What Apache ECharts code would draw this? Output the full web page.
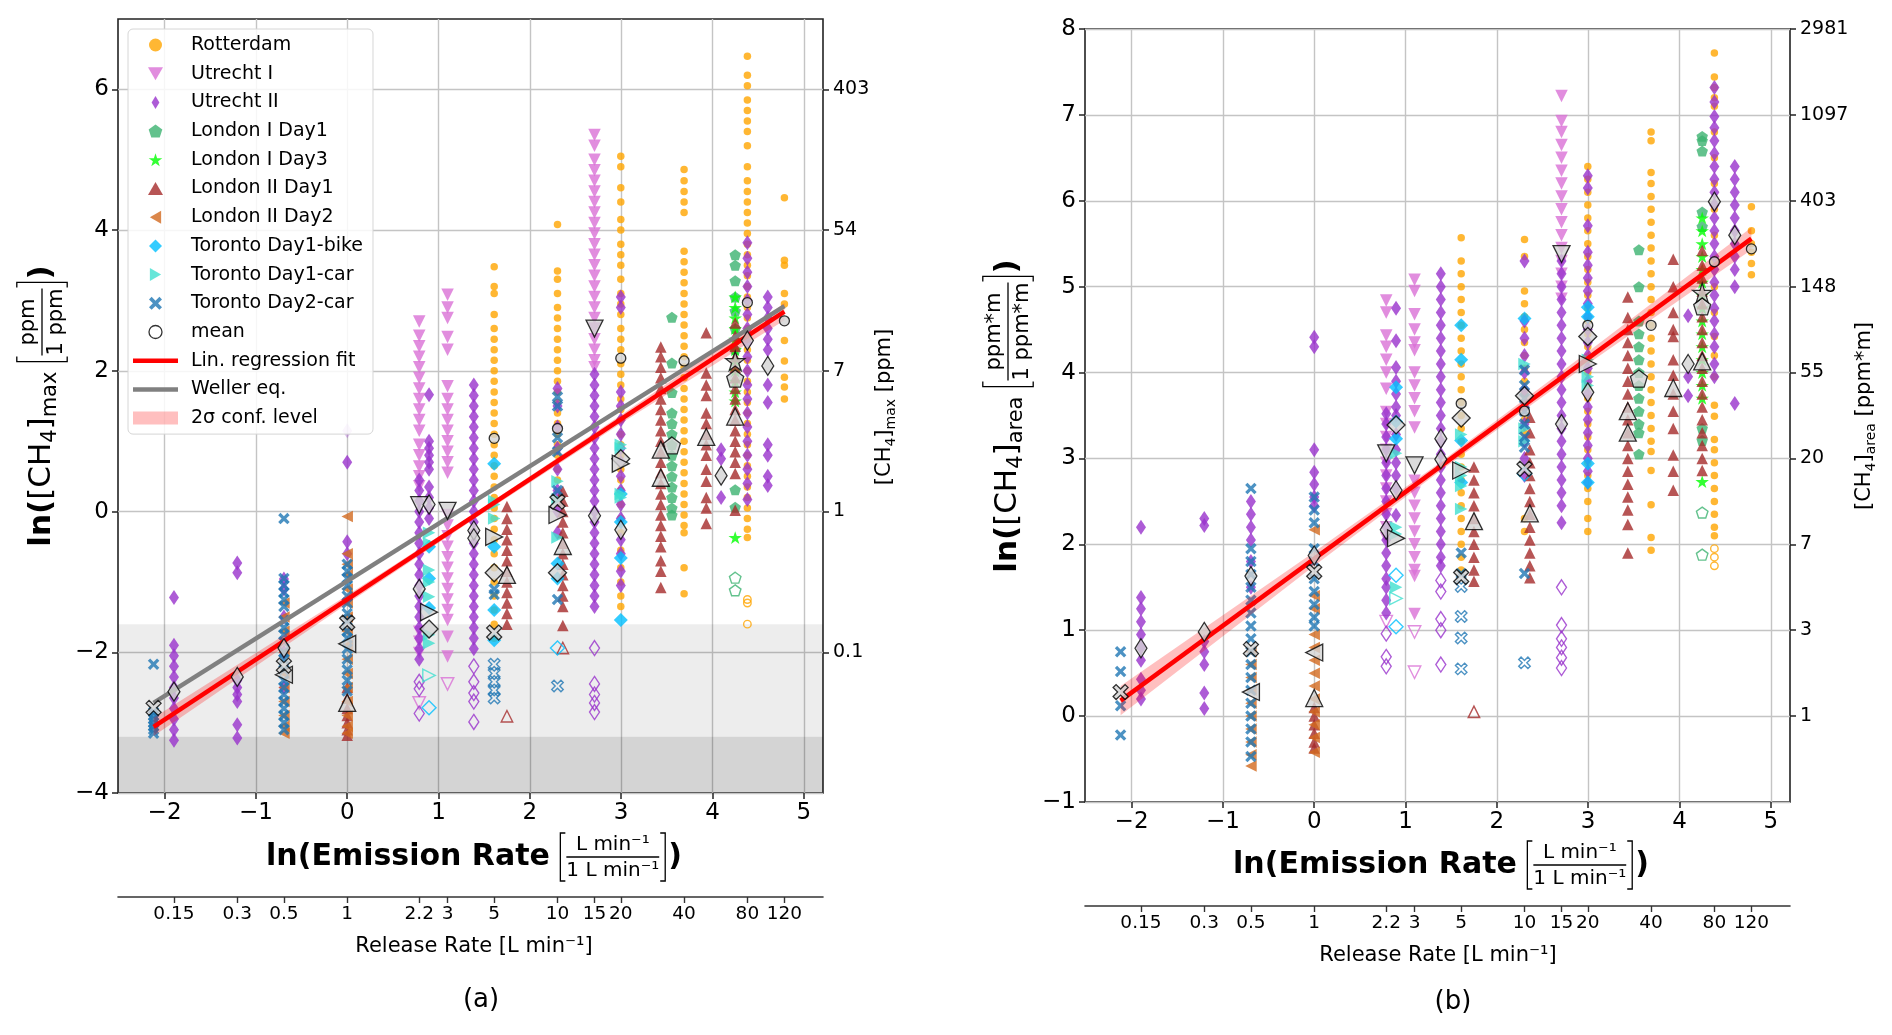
<!DOCTYPE html>
<html>
<head>
<meta charset="utf-8">
<title>CH4 enhancement vs emission rate</title>
<script src="https://cdn.jsdelivr.net/npm/echarts@6.0.0/dist/echarts.min.js"></script>
<style>
    html, body { margin: 0; padding: 0; background: #fff; }
    #chart { width: 1892px; height: 1035px; }
</style>
</head>
<body>
<div id="chart"></div>
<script>
// ticks
const lnTicks = [-2, -1, 0, 1, 2, 3, 4, 5]
const releaseTicks = [0.15, 0.3, 0.5, 1, 2.2, 3, 5, 10, 15, 20, 40, 80, 120]
const releaseTickLabels = ['0.15', '0.3', '0.5', '1', '2.2', '3', '5', '10', '15', '20', '40', '80', '120']
const maxTicks = [-4, -2, 0, 2, 4, 6]
const maxRightTicks = [-2, 0, 2, 4, 6]
const maxRightLabels = ['0.1', '1', '7', '54', '403']
const areaTicks = [-1, 0, 1, 2, 3, 4, 5, 6, 7, 8]
const areaRightTicks = [0, 1, 2, 3, 4, 5, 6, 7, 8]
const areaRightLabels = ['1', '3', '7', '20', '55', '148', '403', '1097', '2981']
const detectionBands = [[-1.6, -3.2], [-3.2, -4]]

// (a) ln([CH4]max): [release rate L/min, [ln values]]
const rotMax = [
    [5, [3.48, 3.2, 3.1, 2.8, 2.6, 2.45, 2.3, 2.15, 2.0, 1.85, 1.7, 1.55, 1.4, 1.25, 1.1, 0.95, 0.8, 0.65, 0.5, 0.35, 0.2, 0.05, -0.1, -0.25, -0.4, -0.6, -0.8, -1.0, -1.2, -1.4, -1.6, -1.8]],
    [10, [4.08, 3.42, 3.3, 3.1, 2.9, 2.75, 2.6, 2.45, 2.3, 2.15, 2.0, 1.85, 1.7, 1.55, 1.4, 1.25, 1.1, 0.95, 0.8, 0.6, 0.45]],
    [20, [5.05, 4.9, 4.6, 4.4, 4.15, 4.0, 3.8, 3.65, 3.5, 3.3, 3.1, 2.95, 2.8, 2.6, 2.45, 2.3, 2.1, 1.95, 1.8, 1.6, 1.45, 1.3, 1.1, 0.95, 0.8, 0.6, 0.45, 0.3, 0.1, -0.1, -0.3, -0.55, -0.8, -1.0, -1.2, -1.35]],
    [40, [4.86, 4.7, 4.55, 4.4, 4.25, 3.7, 3.55, 3.4, 3.25, 3.1, 2.95, 2.8, 2.65, 2.5, 2.35, 2.2, 2.05, 1.9, 1.75, 1.6, 1.45, 1.3, 1.15, 1.0, 0.85, 0.7, 0.55, 0.4, 0.25, 0.1, -0.05, -0.2, -0.3, -0.8, -1.17]],
    [80, [6.47, 6.2, 6.05, 5.85, 5.7, 5.55, 5.4, 5.2, 4.9, 4.7, 4.55, 4.4, 4.25, 4.1, 3.95, 3.8, 3.65, 3.5, 3.35, 3.2, 3.05, 2.9, 2.75, 2.6, 2.45, 2.3, 2.15, 2.0, 1.85, 1.7, 1.55, 1.4, 1.25, 1.1, 0.95, 0.8, 0.65, 0.5, 0.35, 0.2, 0.05, -0.1, -0.25, -0.37]],
    [120, [4.46, 3.57, 3.5, 3.1, 2.95, 2.43, 2.14, 1.91, 1.77, 1.6]],
]
const rotMaxOpen = [[80, [-1.25, -1.3, -1.6]]]
const rotMaxMean = [[5, 1.04], [10, 1.18], [20, 2.18], [40, 2.14], [80, 2.97], [120, 2.71]]

const utr1Max = [
    [2.2, [2.7, 2.5, 2.35, 2.2, 2.05, 1.9, 1.75, 1.6, 1.45, 1.3, 1.15, 0.95, 0.8, 0.64, 0.5, 0.36, -1.71, -1.85, -2.01]],
    [3, [3.08, 2.9, 2.75, 2.48, 2.3, 1.78, 1.6, 1.45, 1.3, 1.15, 1.0, 0.85, 0.7, 0.55, -0.05, -0.2, -0.35, -0.5, -0.65, -0.8, -0.95, -1.1, -1.25, -1.4, -1.54, -1.78, -2.06]],
    [15, [5.35, 5.2, 5.0, 4.85, 4.7, 4.55, 4.4, 4.25, 4.1, 3.95, 3.8, 3.65, 3.5, 3.35, 3.2, 3.05, 2.9, 2.75, 2.6, 2.45, 2.3, 2.15, 2.05]],
]
const utr1MaxOpen = [[2.2, [-2.72]], [3, [-2.45]]]
const utr1MaxMean = [[2.2, 0.09], [3, 0.01], [15, 2.6]]

const utr2Max = [
    [0.15, [-1.22, -1.9, -2.05, -2.2, -2.35, -2.5, -2.65, -2.8, -2.95, -3.1, -3.25]],
    [0.3, [-0.73, -0.87, -2.4, -2.5, -2.6, -2.7, -3.03, -3.22]],
    [0.5, [-0.96, -1.1, -1.5, -2.0, -2.5]],
    [1, [0.7, -0.43, -0.6]],
    [2.2, [0.45, 0.3, 0.15, 0.0, -0.15, -0.3, -0.45, -0.6, -0.75, -0.9, -1.05, -1.2, -1.35, -1.5, -1.65, -1.8, -1.95, -2.1]],
    [2.45, [1.66, 1.0, 0.9, 0.8, 0.7, 0.6, 0.35, 0.2, 0.05, -0.1]],
    [4, [1.8, 1.65, 1.5, 1.35, 1.2, 1.05, 0.9, 0.75, 0.6, 0.45, 0.3, 0.15, 0.0, -0.15, -0.3, -0.45, -0.6, -0.75, -0.9, -1.05, -1.2, -1.35, -1.5, -1.65, -1.8, -1.95]],
    [10, [1.75, 1.5, 1.2, 0.9, 0.6, 0.3, 0.0, -0.3]],
    [15, [1.95, 1.8, 1.65, 1.5, 1.35, 1.2, 1.05, 0.9, 0.75, 0.6, 0.45, 0.3, 0.15, 0.0, -0.15, -0.3, -0.45, -0.6, -0.75, -0.9, -1.05, -1.2, -1.35]],
    [20, [3.05, 2.9, 1.7, 1.5, 1.3, 1.1, 0.9, 0.7, 0.5, 0.3, 0.1, -0.1, -0.4, -0.6, -0.85, -1.05]],
    [60, [0.88, 0.75, 0.2]],
    [80, [3.82, 3.6, 3.4, 3.2, 3.0, 2.8, 2.6, 2.4, 2.2, 2.0, 1.8, 1.6, 1.4, 1.2, 1.0, 0.8, 0.6, 0.4, 0.17]],
    [100, [3.05, 2.9, 2.75, 2.6, 2.45, 2.3, 1.8, 1.55, 0.95, 0.8, 0.5, 0.37]],
]
const utr2MaxOpen = [[2.2, [-2.42, -2.52, -2.87]], [4, [-2.2, -2.42, -2.58, -2.7, -2.99]], [15, [-1.94, -2.45, -2.6, -2.72, -2.85]]]
const utr2MaxFaint = [[1, [1.15]]]
const utr2MaxMean = [[0.15, -2.56], [0.3, -2.35], [0.5, -1.94], [2.2, -1.1], [2.45, 0.1], [4, -0.27], [4, -0.38], [15, -0.06], [20, -0.26], [60, 0.51], [80, 2.43], [100, 2.07]]

const lon1d1Max = [
    [35, [2.76, 2.11, 1.69, 1.4, 1.25, 1.1, 0.95, 0.8, 0.65, 0.5, 0.35, 0.2, 0.05, -0.05]],
    [70, [3.65, 3.5, 3.28, 3.05, 2.85, 2.6, 2.3, 0.31, 0.06]],
]
const lon1d1MaxOpen = [[70, [-0.94, -1.12]]]
const lon1d1MaxMean = [[35, 0.94], [70, 1.89]]

const lon1d3Max = [[70, [3.05, 2.9, 2.75, 2.6, 2.45, 2.3, 2.15, 2.0, 1.85, 1.7, 1.57, -0.37]]]
const lon1d3MaxMean = [[70, 2.14]]

const lon2d1Max = [
    [1, [-2.5, -2.65, -2.8, -2.9, -3.0, -3.1, -3.18]],
    [5.75, [0.07, -0.1, -0.25, -0.4, -0.55, -0.7, -0.85, -1.0, -1.15, -1.3, -1.45, -1.6]],
    [10.6, [0.29, 0.15, 0.0, -0.15, -0.3, -0.45, -0.6, -0.75, -0.9, -1.05, -1.2, -1.35, -1.62]],
    [31, [2.34, 2.2, 2.05, 1.9, 1.75, 1.6, 1.45, 1.3, 1.15, 1.0, 0.85, 0.7, 0.55, 0.4, 0.25, 0.1, -0.05, -0.2, -0.35, -0.5, -0.7, -0.85, -1.08]],
    [51, [2.54, 1.97, 1.8, 1.65, 1.4, 1.25, 1.1, 0.95, 0.8, 0.6, 0.43, 0.2, 0.05, -0.17]],
    [70, [2.68, 2.5, 2.35, 2.2, 2.05, 1.9, 1.75, 1.6, 1.45, 1.3, 1.15, 1.0, 0.85, 0.7, 0.54, 0.02]],
]
const lon2d1MaxOpen = [[5.75, [-2.91]], [10.6, [-1.94]]]
const lon2d1MaxMean = [[1, -2.72], [5.75, -0.9], [10.6, -0.49], [31, 0.88], [31, 0.48], [51, 1.06], [70, 1.35]]

const lon2d2Max = [
    [0.5, [-1.3, -1.5, -1.7, -2.0, -2.3, -2.5, -2.7, -2.9, -3.05, -3.15]],
    [1, [-0.07, -0.6, -0.75, -0.9, -1.1, -1.3, -1.5, -1.7, -1.9, -2.1, -2.3, -2.5, -2.7, -2.9, -3.05, -3.15]],
]
const lon2d2MaxMean = [[0.5, -2.32], [1, -1.88]]

const bikeMax = [[2.45, [-0.5, -0.95, -1.37]], [5, [0.68, -0.5, -1.4, -1.83]], [10, [-0.74, -0.95]], [20, [0.25, -0.15, -0.66, -1.54]]]
const bikeMaxOpen = [[2.45, [-2.79]], [10, [-1.94]]]
const bikeMaxMean = [[2.45, -1.67], [5, -0.87], [10, -0.87], [20, 0.75]]

const carMax = [[2.45, [-0.3, -0.45, -0.83, -1.0, -1.21, -1.75, -1.87]], [5, [0.15, 0.1, -0.1]], [10, [0.43, 0.17, -0.37]], [20, [0.95, 0.9, 0.25, 0.2]]]
const carMaxOpen = [[2.45, [-2.33]]]
const carMaxMean = [[2.45, -1.43], [5, -0.36], [10, -0.05], [20, 0.68]]

const car2Max = [
    [0.12, [-2.17, -2.85, -2.9, -2.95, -3.0, -3.05, -3.1, -3.15]],
    [0.5, [-0.1, -0.95, -1.05, -1.15, -1.25, -1.35, -1.55, -1.65, -1.75, -1.85, -2.0, -2.1, -2.25, -2.4, -2.5, -2.6, -2.7, -2.8, -2.9, -3.0, -3.1]],
    [1, [-0.75, -0.85, -0.95, -1.05, -1.2, -1.3, -1.45, -1.55, -1.7, -1.8, -1.95, -2.1, -2.25, -2.4, -2.55]],
    [5, [-1.1, -1.18]],
    [10, [1.63, 1.5, 1.05, 0.85, 0.3, -1.25]],
]
const car2MaxOpen = [[5, [-2.17, -2.3, -2.42, -2.54, -2.65]], [10, [-2.48]]]
const car2MaxMean = [[0.12, -2.79], [0.5, -2.19], [1, -1.58], [5, -1.72], [10, 0.14]]

// (b) ln([CH4]area)
const rotArea = [
    [5, [5.57, 5.3, 5.15, 5.0, 4.85, 4.7, 4.55, 4.4, 4.25, 4.1, 3.95, 3.8, 3.65, 3.5, 3.35, 3.2, 3.05, 2.9, 2.75, 2.6, 2.45, 2.3, 2.15, 2.0, 1.85, 1.7]],
    [10, [5.55, 5.35, 4.95, 4.8, 4.65, 4.5, 4.35, 4.2, 4.05, 3.9, 3.75, 3.6, 3.45, 3.3, 2.3, 2.15]],
    [20, [6.4, 6.25, 6.1, 5.95, 5.8, 5.65, 5.5, 5.35, 5.2, 5.05, 4.9, 4.75, 4.6, 4.45, 4.3, 4.15, 4.0, 3.85, 3.7, 3.55, 3.4, 3.25, 3.1, 2.95, 2.8, 2.65, 2.5, 2.3, 2.15]],
    [40, [6.8, 6.7, 6.33, 6.2, 6.05, 5.9, 5.75, 5.6, 5.45, 5.3, 5.15, 5.0, 4.85, 4.7, 4.55, 4.4, 4.25, 4.1, 3.95, 3.8, 3.65, 3.5, 3.35, 3.2, 3.08, 2.86, 2.46, 2.08, 1.93]],
    [80, [7.72, 7.44, 7.32, 7.2, 7.1, 6.8, 6.5, 6.2, 5.9, 5.6, 5.3, 5.0, 4.7, 4.42, 4.2, 3.95, 3.62, 3.49, 3.22, 3.1, 2.95, 2.8, 2.65, 2.5, 2.35, 2.2, 2.1]],
    [120, [5.93, 5.65, 5.5, 5.4, 5.27, 5.14]],
]
const rotAreaOpen = [[80, [1.95, 1.85, 1.75]]]
const rotAreaMean = [[5, 3.64], [10, 3.55], [20, 4.55], [40, 4.55], [80, 5.29], [120, 5.44]]

const utr1Area = [
    [2.2, [4.84, 4.7, 4.43, 4.3, 4.15, 4.0, 3.81, 3.54, 3.4, 3.25, 3.1, 2.95, 2.8, 2.65, 2.5, 2.35, 2.2, 2.07]],
    [3, [5.08, 4.95, 4.68, 4.5, 4.35, 4.26, 4.0, 3.85, 3.7, 3.55, 3.36, 2.74, 2.6, 2.45, 2.3, 2.15, 2.0, 1.85, 1.7, 1.63, 1.19]],
    [15, [7.22, 6.93, 6.8, 6.65, 6.5, 6.35, 6.2, 6.05, 5.9, 5.75, 5.6, 5.45, 5.3, 5.15, 5.0, 4.86]],
]
const utr1AreaOpen = [[2.2, [1.1]], [3, [0.98, 0.51]]]
const utr1AreaMean = [[2.2, 3.06], [3, 2.92], [15, 5.38]]

const utr2Area = [
    [0.15, [2.2, 1.38, 1.25, 1.1, 0.95, 0.8, 0.65, 0.43, 0.3, 0.2]],
    [0.3, [2.3, 2.22, 0.87, 0.75, 0.6, 0.27, 0.09]],
    [0.5, [2.5, 2.35, 2.2, 2.05, 1.8, 1.5]],
    [1, [4.41, 4.3, 3.1, 2.84, 2.7, 2.55, 2.45]],
    [2.2, [3.52, 3.4, 3.25, 3.1, 2.95, 2.8, 2.65, 2.5, 2.35, 2.2, 2.05, 1.9, 1.75, 1.6, 1.5, 1.35, 1.2]],
    [2.45, [4.75, 4.37, 4.06, 3.9, 3.75, 3.6, 3.5, 3.28, 3.1, 2.95, 2.8, 2.65, 2.34]],
    [4, [5.15, 5.0, 4.85, 4.7, 4.55, 4.4, 4.25, 4.1, 3.95, 3.8, 3.65, 3.5, 3.35, 3.2, 3.05, 2.9, 2.75, 2.6, 2.45, 2.3, 2.15, 2.0, 1.85, 1.75]],
    [10, [5.3, 4.6, 4.4, 4.2, 4.0, 3.8, 3.6, 3.4, 3.2, 3.0, 2.8]],
    [15, [5.3, 5.15, 5.0, 4.85, 4.7, 4.55, 4.4, 4.25, 4.1, 3.95, 3.8, 3.65, 3.5, 3.35, 3.2, 3.05, 2.9, 2.75, 2.6, 2.45, 2.25]],
    [20, [6.29, 6.15, 5.71, 5.4, 5.25, 5.1, 4.95, 4.8, 4.65, 4.5, 4.35, 4.2, 4.05, 3.9, 3.75, 3.6, 3.45, 3.3, 3.15, 3.0, 2.85, 2.72]],
    [60, [4.66, 3.95, 3.73]],
    [80, [7.32, 7.15, 6.98, 6.85, 6.7, 6.55, 6.4, 6.25, 6.1, 5.95, 5.8, 5.65, 5.5, 5.35, 5.2, 5.05, 4.9, 4.75, 4.6, 4.45, 4.3, 4.1, 3.95]],
    [100, [6.4, 6.25, 6.1, 5.95, 5.8, 5.65, 5.5, 5.35, 5.2, 5.0, 3.64]],
]
const utr2AreaOpen = [[2.2, [0.96, 0.69, 0.58]], [4, [1.58, 1.45, 1.13, 1.0, 0.6]], [15, [1.5, 1.06, 0.9, 0.8, 0.68, 0.56]]]
const utr2AreaMean = [[0.15, 0.79], [0.3, 0.98], [0.5, 1.63], [1, 1.87], [2.2, 2.17], [2.45, 2.63], [4, 3.23], [4, 2.99], [15, 3.4], [20, 3.77], [60, 4.1], [80, 5.99], [100, 5.6]]

const lon1d1Area = [
    [35, [5.43, 5.0, 4.6, 4.45, 4.3, 4.15, 4.0, 3.85, 3.7, 3.55, 3.4, 3.3, 3.05]],
    [70, [6.75, 6.7, 6.58, 5.87, 5.7, 3.35, 3.21]],
]
const lon1d1AreaOpen = [[70, [2.37, 1.88]]]
const lon1d1AreaMean = [[35, 3.93], [70, 4.77]]

const lon1d3Area = [[70, [5.8, 5.65, 5.5, 5.35, 5.2, 5.05, 4.9, 4.75, 4.6, 4.45, 4.3, 4.15, 4.0, 3.85, 3.7, 2.73]]]
const lon1d3AreaMean = [[70, 4.93]]

const lon2d1Area = [
    [1, [0.1, 0.0, -0.1, -0.2, -0.3, -0.37]],
    [5.75, [2.9, 2.75, 2.6, 2.45, 2.3, 2.15, 2.0, 1.85, 1.7, 1.57]],
    [10.6, [3.48, 3.3, 3.1, 2.95, 2.8, 2.65, 2.5, 2.35, 2.2, 2.05, 1.9, 1.75, 1.61]],
    [31, [4.88, 4.64, 4.5, 4.35, 4.2, 4.05, 3.9, 3.75, 3.6, 3.45, 3.3, 3.15, 3.0, 2.85, 2.7, 2.55, 2.4, 2.23, 1.9]],
    [51, [5.32, 5.0, 4.7, 4.5, 4.42, 4.15, 3.97, 3.75, 3.55, 3.35, 3.04, 2.85, 2.63]],
    [70, [5.42, 5.25, 5.1, 4.95, 4.8, 4.65, 4.5, 4.35, 4.2, 4.05, 3.9, 3.75, 3.6, 3.45, 3.3, 3.15, 3.0, 2.86]],
]
const lon2d1AreaOpen = [[5.75, [0.05]]]
const lon2d1AreaMean = [[1, 0.21], [5.75, 2.27], [10.6, 2.36], [31, 3.55], [31, 3.3], [51, 3.82], [70, 4.13]]

const lon2d2Area = [
    [0.5, [0.75, 0.6, 0.45, 0.3, 0.15, 0.0, -0.15, -0.3, -0.45, -0.58]],
    [1, [2.17, 1.4, 1.25, 0.95, 0.8, 0.65, 0.5, 0.35, 0.2, 0.05, -0.1, -0.25, -0.42]],
]
const lon2d2AreaMean = [[0.5, 0.28], [1, 0.74]]

const bikeArea = [[2.45, [3.83, 3.43, 3.23]], [5, [4.55, 4.15, 3.21, 2.72]], [10, [4.63]], [20, [4.76, 4.65, 2.94, 2.72]]]
const bikeAreaOpen = [[2.45, [1.64, 1.04]], [10, [2.82]]]
const bikeAreaMean = [[2.45, 3.39], [5, 3.47], [10, 3.73], [20, 4.42]]

const carArea = [[2.45, [3.06, 2.2, 2.12, 1.5]], [5, [3.28, 2.9, 2.8, 2.68, 2.41]], [10, [4.1, 3.35, 3.2]], [20, [4.15, 3.95, 3.85]]]
const carAreaOpen = [[2.45, [1.37]]]
const carAreaMean = [[2.45, 2.07], [5, 2.86], [20, 4.1]]

const car2Area = [
    [0.12, [0.75, 0.52, 0.12, -0.22]],
    [0.5, [2.65, 1.95, 1.8, 1.65, 1.5, 1.35, 1.2, 1.05, 0.9, 0.75, 0.6, 0.45, 0.3, 0.15, 0.0, -0.15, -0.3, -0.47]],
    [1, [2.55, 2.4, 2.25, 1.95, 1.8, 1.6, 1.45, 1.3, 1.15, 1.05]],
    [5, [1.9, 1.66]],
    [10, [4.03, 3.85, 3.7, 3.55, 3.4, 3.25, 3.13, 1.66]],
]
const car2AreaOpen = [[5, [1.51, 1.16, 0.91, 0.55]], [10, [0.62]]]
const car2AreaMean = [[0.12, 0.28], [0.5, 0.78], [1, 1.68], [5, 1.62], [10, 2.88]]

// fits: [rate, ln value] at the ends, band: [rate, lower, upper]
const fitMax = [[0.12, -3.06], [120, 2.84]]
const wellerMax = [[0.12, -2.72], [120, 2.92]]
const bandMax = [[0.12, -3.19, -2.93], [1, -1.31, -1.19], [4, -0.11, -0.03], [20, 1.25, 1.37], [120, 2.72, 2.96]]
const fitArea = [[0.12, 0.18], [120, 5.56]]
const bandArea = [[0.12, 0.01, 0.35], [1, 1.75, 1.91], [4, 2.86, 2.96], [20, 4.1, 4.24], [120, 5.43, 5.69]]

// marker styles
const shapes = {
    pentagon: 'path://M0,-10L9.51,-3.09L5.88,8.09L-5.88,8.09L-9.51,-3.09Z',
    star: 'path://M0,-10L2.245,-3.09L9.511,-3.09L3.633,1.18L5.878,8.09L0,3.82L-5.878,8.09L-3.633,1.18L-9.511,-3.09L-2.245,-3.09Z',
    cross: 'path://M-10,-6L-6,-10L0,-4L6,-10L10,-6L4,0L10,6L6,10L0,4L-6,10L-10,6L-4,0Z',
    triUp: 'path://M0,-8.66L10,8.66L-10,8.66Z',
    triDown: 'path://M-10,-8.66L10,-8.66L0,8.66Z',
    triLeft: 'path://M-8.66,0L8.66,-10L8.66,10Z',
    triRight: 'path://M8.66,0L-8.66,-10L-8.66,10Z',
    thinDiamond: 'path://M0,-10L6,0L0,10L-6,0Z',
    diamond: 'path://M0,-10L10,0L0,10L-10,0Z',
    dot: 'path://M0,-10A10,10,0,1,1,0,10A10,10,0,1,1,0,-10Z',
    bar: 'path://M0,0L45,0L45,4.5L0,4.5Z',
}

const groups = [
    {name: 'Rotterdam', color: '#ffa500', symbol: 'circle', size: 7.5, meanSize: 10, rotate: 0, icon: shapes.dot},
    {name: 'Utrecht I', color: '#da70d6', symbol: 'triangle', size: 12.5, meanSize: 17, rotate: 180, icon: shapes.triDown},
    {name: 'Utrecht II', color: '#9932cc', symbol: 'diamond', size: [10, 15], meanSize: [12, 19], rotate: 0, icon: shapes.thinDiamond},
    {name: 'London I Day1', color: '#3cb371', symbol: shapes.pentagon, size: 11.5, meanSize: 17, rotate: 0, icon: shapes.pentagon},
    {name: 'London I Day3', color: '#00ff00', symbol: shapes.star, size: 13.5, meanSize: 19, rotate: 0, icon: shapes.star},
    {name: 'London II Day1', color: '#a52a2a', symbol: 'triangle', size: 11.5, meanSize: 17, rotate: 0, icon: shapes.triUp},
    {name: 'London II Day2', color: '#d2691e', symbol: 'triangle', size: 11.5, meanSize: 17, rotate: 90, icon: shapes.triLeft},
    {name: 'Toronto Day1-bike', color: '#00bfff', symbol: 'diamond', size: 14, meanSize: 18, rotate: 0, icon: shapes.diamond},
    {name: 'Toronto Day1-car', color: '#40e0d0', symbol: 'triangle', size: 12.5, meanSize: 17, rotate: -90, icon: shapes.triRight},
    {name: 'Toronto Day2-car', color: '#1f77b4', symbol: shapes.cross, size: 11.5, meanSize: 15, rotate: 0, icon: shapes.cross},
]

const panelMax = [
    {pts: rotMax, open: rotMaxOpen, mean: rotMaxMean},
    {pts: utr1Max, open: utr1MaxOpen, mean: utr1MaxMean},
    {pts: utr2Max, open: utr2MaxOpen, faint: utr2MaxFaint, mean: utr2MaxMean},
    {pts: lon1d1Max, open: lon1d1MaxOpen, mean: lon1d1MaxMean},
    {pts: lon1d3Max, mean: lon1d3MaxMean},
    {pts: lon2d1Max, open: lon2d1MaxOpen, mean: lon2d1MaxMean},
    {pts: lon2d2Max, mean: lon2d2MaxMean},
    {pts: bikeMax, open: bikeMaxOpen, mean: bikeMaxMean},
    {pts: carMax, open: carMaxOpen, mean: carMaxMean},
    {pts: car2Max, open: car2MaxOpen, mean: car2MaxMean},
]
const panelArea = [
    {pts: rotArea, open: rotAreaOpen, mean: rotAreaMean},
    {pts: utr1Area, open: utr1AreaOpen, mean: utr1AreaMean},
    {pts: utr2Area, open: utr2AreaOpen, mean: utr2AreaMean},
    {pts: lon1d1Area, open: lon1d1AreaOpen, mean: lon1d1AreaMean},
    {pts: lon1d3Area, mean: lon1d3AreaMean},
    {pts: lon2d1Area, open: lon2d1AreaOpen, mean: lon2d1AreaMean},
    {pts: lon2d2Area, mean: lon2d2AreaMean},
    {pts: bikeArea, open: bikeAreaOpen, mean: bikeAreaMean},
    {pts: carArea, open: carAreaOpen, mean: carAreaMean},
    {pts: car2Area, open: car2AreaOpen, mean: car2AreaMean},
]

const FONT = '"DejaVu Sans", sans-serif'
const BAND_FILL = 'rgba(255,0,0,0.25)'

const toPoints = function(rows) {
    const out = []
    ;(rows || []).forEach(function([rate, ys]) {
        ys.forEach(function(y) {
            out.push([Math.log(rate), y])
        })
    })
    return out
}

const scatterSeries = function(panel, xi, yi) {
    const list = []
    const means = []
    groups.forEach(function(g, i) {
        const d = panel[i]
        const data = toPoints(d.pts)
        toPoints(d.open).forEach(function(v) {
            data.push({value: v, itemStyle: {color: 'rgba(255,255,255,0)', borderColor: g.color, borderWidth: 1.4}})
        })
        toPoints(d.faint).forEach(function(v) {
            data.push({value: v, itemStyle: {opacity: 0.3}})
        })
        list.push({
            type: 'scatter', name: g.name, xAxisIndex: xi, yAxisIndex: yi,
            symbol: g.symbol, symbolSize: g.size, symbolRotate: g.rotate, symbolKeepAspect: true,
            itemStyle: {color: g.color}, data: data, z: 2, silent: true,
        })
        d.mean.forEach(function([rate, y]) {
            means.push({value: [Math.log(rate), y], symbol: g.symbol, symbolSize: g.meanSize, symbolRotate: g.rotate})
        })
    })
    list.push({
        type: 'scatter', name: 'mean', xAxisIndex: xi, yAxisIndex: yi, symbol: 'circle', symbolSize: 9,
        itemStyle: {color: '#d3d3d3', borderColor: '#000', borderWidth: 1.3}, data: means, z: 6, silent: true,
    })
    return list
}

const lineSeries = function(name, ends, color, xi, yi) {
    return {
        type: 'line', name: name, xAxisIndex: xi, yAxisIndex: yi,
        data: ends.map(([r, y]) => [Math.log(r), y]),
        symbol: 'none', lineStyle: {color: color, width: 4.5}, itemStyle: {color: color}, z: 5, silent: true,
    }
}

// confidence band drawn as one polygon through the axes
const bandSeries = function(band, xi, yi) {
    return {
        type: 'custom', name: '2σ conf. level', xAxisIndex: xi, yAxisIndex: yi, z: 4, silent: true,
        itemStyle: {color: BAND_FILL},
        data: band.map(([r, lo, hi]) => [Math.log(r), lo, hi]),
        renderItem: function(params, api) {
            if (params.dataIndex !== 0) {
                return null
            }
            const upper = band.map(([r, lo, hi]) => api.coord([Math.log(r), hi]))
            const lower = band.slice().reverse().map(([r, lo]) => api.coord([Math.log(r), lo]))
            return {type: 'polygon', shape: {points: upper.concat(lower)}, style: {fill: BAND_FILL}}
        },
    }
}

const bandRects = {
    type: 'custom', xAxisIndex: 0, yAxisIndex: 0, z: 1, silent: true,
    data: detectionBands,
    renderItem: function(params, api) {
        const cs = params.coordSys
        const top = api.coord([0, api.value(0)])[1]
        const bottom = api.coord([0, api.value(1)])[1]
        const fills = ['rgba(0,0,0,0.07)', 'rgba(0,0,0,0.17)']
        return {type: 'rect', shape: {x: cs.x, y: top, width: cs.width, height: bottom - top}, style: {fill: fills[params.dataIndex]}}
    },
}

const lookup = function(ticks, labels) {
    return function(v) {
        const i = ticks.findIndex(t => Math.abs(t - v) < 1e-6)
        return i < 0 ? '' : labels[i]
    }
}
const minus = v => String(v).replace('-', '\u2212')

const mainX = function(gi) {
    return {
        type: 'value', gridIndex: gi, min: -2.51, max: 5.21,
        axisLine: {show: false, onZero: false},
        axisTick: {customValues: lnTicks, length: 6, lineStyle: {color: '#222', width: 1.5}},
        axisLabel: {customValues: lnTicks, formatter: minus, color: '#000', fontSize: 23, fontFamily: FONT, margin: 9},
        splitLine: {show: true, lineStyle: {color: '#c4c4c4', width: 1.4}},
    }
}
const releaseX = function(gi) {
    const values = releaseTicks.map(Math.log)
    return {
        type: 'value', gridIndex: gi, min: -2.51, max: 5.21, position: 'bottom', offset: 104,
        axisLine: {show: true, onZero: false, lineStyle: {color: '#333', width: 1.6}},
        axisTick: {customValues: values, length: 6, lineStyle: {color: '#333', width: 1.4}},
        axisLabel: {customValues: values, formatter: lookup(values, releaseTickLabels), color: '#000', fontSize: 18.5, fontFamily: FONT, margin: 8},
        splitLine: {show: false},
    }
}
const leftY = function(gi, min, max, ticks) {
    return {
        type: 'value', gridIndex: gi, min: min, max: max, position: 'left',
        axisLine: {show: false, onZero: false},
        axisTick: {customValues: ticks, length: 6, lineStyle: {color: '#222', width: 1.5}},
        axisLabel: {customValues: ticks, formatter: minus, color: '#000', fontSize: 23, fontFamily: FONT, margin: 9},
        splitLine: {show: true, lineStyle: {color: '#c4c4c4', width: 1.4}},
    }
}
const rightY = function(gi, min, max, ticks, labels) {
    return {
        type: 'value', gridIndex: gi, min: min, max: max, position: 'right',
        axisLine: {show: false, onZero: false},
        axisTick: {customValues: ticks, length: 6, lineStyle: {color: '#222', width: 1.5}},
        axisLabel: {customValues: ticks, formatter: lookup(ticks, labels), color: '#000', fontSize: 19, fontFamily: FONT, margin: 10},
        splitLine: {show: false},
    }
}

// text helpers for the math-like labels
const measureCtx = document.createElement('canvas').getContext('2d')
const fontOf = (size, bold) => (bold ? 'bold ' : '') + size + 'px "DejaVu Sans"'
const textWidth = function(s, size, bold) {
    measureCtx.font = fontOf(size, bold)
    return measureCtx.measureText(s).width
}
const textEl = function(s, x, y, size, bold, align) {
    const a = align || 'left'
    return {
        type: 'text',
        style: {text: s, x: x, y: y, font: fontOf(size, bold), fill: '#000', textAlign: a, textVerticalAlign: 'middle', align: a, verticalAlign: 'middle'},
    }
}
const mathLabel = function(pieces, cx, cy, rotation) {
    const kids = []
    let x = 0
    pieces.forEach(function(p) {
        if (p.gap) {
            x += p.gap
            return
        }
        if (p.frac) {
            const w = Math.max(textWidth(p.frac[0], p.s, false), textWidth(p.frac[1], p.s, false))
            const h = p.s * 1.2
            const stroke = {stroke: '#000', lineWidth: 1.3, fill: 'none'}
            kids.push({type: 'polyline', shape: {points: [[x + 5, -h], [x, -h], [x, h], [x + 5, h]]}, style: stroke})
            x += 6
            kids.push(textEl(p.frac[0], x + w / 2, -p.s * 0.62, p.s, false, 'center'))
            kids.push(textEl(p.frac[1], x + w / 2, p.s * 0.7, p.s, false, 'center'))
            kids.push({type: 'line', shape: {x1: x, y1: 0, x2: x + w, y2: 0}, style: {stroke: '#000', lineWidth: 1.3}})
            x += w + 1
            kids.push({type: 'polyline', shape: {points: [[x, -h], [x + 5, -h], [x + 5, h], [x, h]]}, style: stroke})
            x += 8
            return
        }
        kids.push(textEl(p.t, x, p.dy || 0, p.s, p.b, 'left'))
        x += textWidth(p.t, p.s, p.b)
    })
    return {type: 'group', x: cx, y: cy, rotation: rotation || 0, children: [{type: 'group', x: -x / 2, children: kids}]}
}

const xLabelPieces = [{t: 'ln(Emission Rate ', s: 30, b: true}, {frac: ['L min\u207b\u00b9', '1 L min\u207b\u00b9'], s: 20}, {t: ')', s: 30, b: true}]
const yLabelPieces = function(sub, frac) {
    return [{t: 'ln(', s: 31, b: true}, {t: '[CH', s: 31}, {t: '4', s: 21, dy: 9}, {t: ']', s: 31}, {t: sub, s: 21, dy: 9},
        {gap: 10}, {frac: frac, s: 21}, {t: ')', s: 31, b: true}]
}
const rightLabelPieces = function(sub, unit) {
    return [{t: '[CH', s: 21}, {t: '4', s: 14, dy: 6}, {t: ']', s: 21}, {t: sub, s: 14, dy: 6}, {t: ' ' + unit, s: 21}]
}

const buildOption = function() {
    const series = []
        .concat([bandRects])
        .concat(scatterSeries(panelMax, 0, 0))
        .concat([bandSeries(bandMax, 0, 0)])
        .concat([lineSeries('Lin. regression fit', fitMax, '#ff0000', 0, 0), lineSeries('Weller eq.', wellerMax, '#808080', 0, 0)])
        .concat(scatterSeries(panelArea, 2, 2))
        .concat([bandSeries(bandArea, 2, 2)])
        .concat([lineSeries('Lin. regression fit', fitArea, '#ff0000', 2, 2)])

    const legendData = groups.map(g => ({name: g.name, icon: g.icon}))
        .concat([
            {name: 'mean', icon: shapes.dot, itemStyle: {color: '#fff', borderColor: '#000', borderWidth: 1.3}},
            {name: 'Lin. regression fit', icon: shapes.bar, itemStyle: {color: '#ff0000'}},
            {name: 'Weller eq.', icon: shapes.bar, itemStyle: {color: '#808080'}},
            {name: '2σ conf. level', icon: 'rect', itemStyle: {color: BAND_FILL}},
        ])

    const PI2 = Math.PI / 2
    return {
        animation: false,
        backgroundColor: '#fff',
        grid: [
            {left: 118, top: 19, width: 705, height: 774, show: true, borderColor: '#222', borderWidth: 1.6, backgroundColor: 'transparent'},
            {left: 1085, top: 29, width: 705, height: 773, show: true, borderColor: '#222', borderWidth: 1.6, backgroundColor: 'transparent'},
        ],
        xAxis: [mainX(0), releaseX(0), mainX(1), releaseX(1)],
        yAxis: [
            leftY(0, -4, 7, maxTicks), rightY(0, -4, 7, maxRightTicks, maxRightLabels),
            leftY(1, -1, 8, areaTicks), rightY(1, -1, 8, areaRightTicks, areaRightLabels),
        ],
        legend: {
            left: 128, top: 29, orient: 'vertical', selectedMode: false, symbolKeepAspect: true, symbolRotate: 0,
            padding: [6, 10, 6, 5], itemWidth: 45, itemHeight: 13, itemGap: 8.7,
            backgroundColor: 'rgba(255,255,255,0.85)', borderColor: '#d6d6d6', borderWidth: 1, borderRadius: 5,
            textStyle: {fontFamily: FONT, fontSize: 19, color: '#000', lineHeight: 20, padding: [0, 0, 0, 8]},
            data: legendData,
        },
        graphic: {
            elements: [
                mathLabel(xLabelPieces, 474, 857, 0),
                mathLabel(xLabelPieces, 1441, 865, 0),
                mathLabel(yLabelPieces('max', ['ppm', '1 ppm']), 42, 406, PI2),
                mathLabel(yLabelPieces('area', ['ppm*m', '1 ppm*m']), 1008, 416, PI2),
                mathLabel(rightLabelPieces('max', '[ppm]'), 885, 407, PI2),
                mathLabel(rightLabelPieces('area', '[ppm*m]'), 1865, 416, PI2),
                textEl('Release Rate [L min\u207b\u00b9]', 474, 947, 21, false, 'center'),
                textEl('Release Rate [L min\u207b\u00b9]', 1438, 956, 21, false, 'center'),
                textEl('(a)', 481, 1000, 26, false, 'center'),
                textEl('(b)', 1453, 1002, 26, false, 'center'),
            ],
        },
        series: series,
    }
}

const __main = function() {
    const chart = echarts.init(document.getElementById('chart'))
    chart.setOption(buildOption())
}

__main()
</script>
</body>
</html>
